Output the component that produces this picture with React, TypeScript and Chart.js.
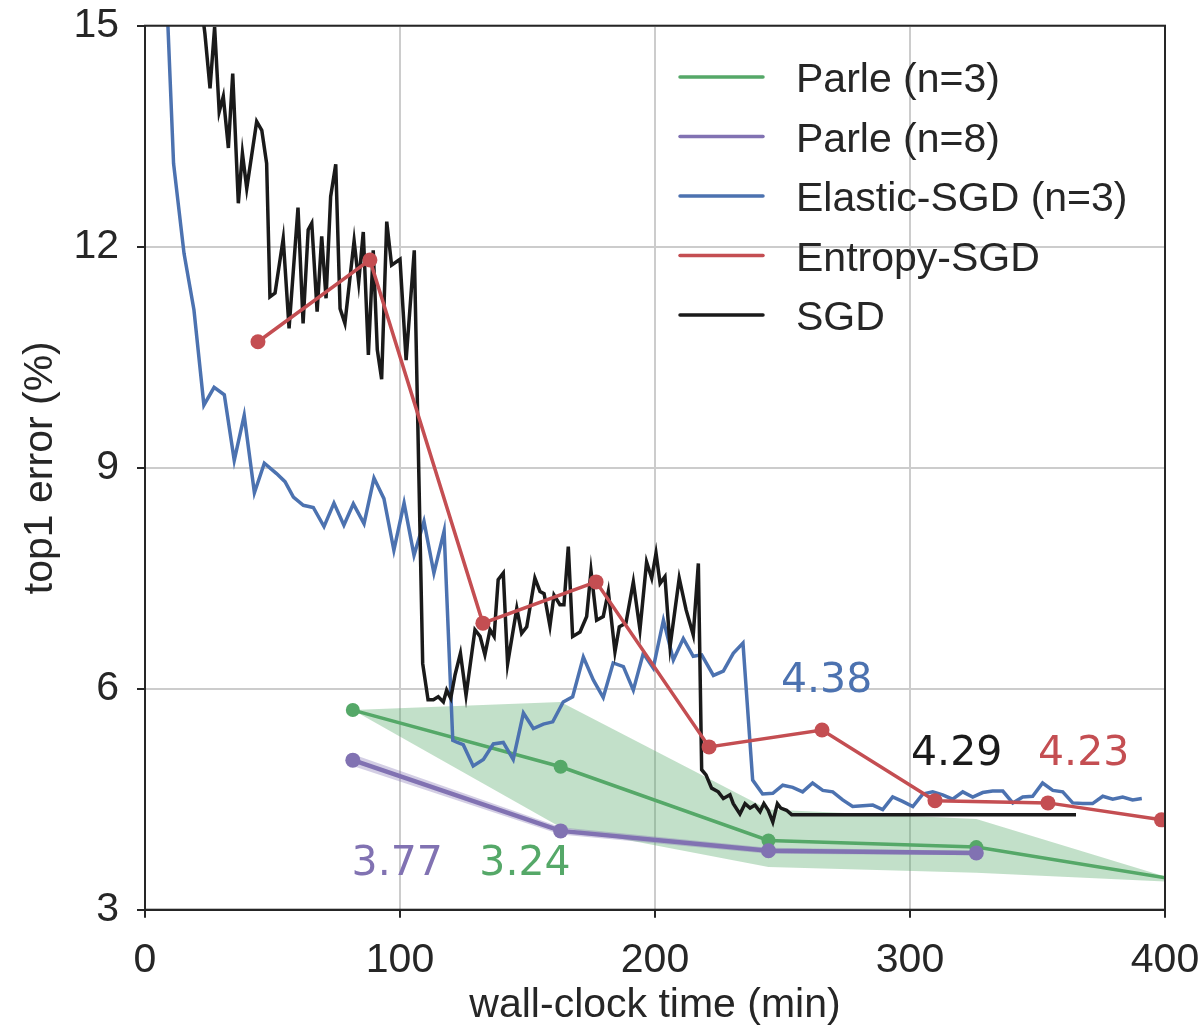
import React, { useEffect, useRef } from "react";
import { Chart, registerables } from "chart.js";
Chart.register(...registerables);

// ---------- data ----------
const xTickValues = [0, 100, 200, 300, 400];
const yTickValues = [3, 6, 9, 12, 15];

const seriesLabels = ["Parle (n=3)", "Parle (n=8)", "Elastic-SGD (n=3)", "Entropy-SGD", "SGD"];

const parle3: [number, number][] = [[81.5, 5.71], [163, 4.94], [244.5, 3.94], [326, 3.85], [407.5, 3.39]];
const parle3Upper: [number, number][] = [[81.5, 5.71], [163, 5.82], [244.5, 4.36], [326, 4.23], [407.5, 3.37]];
const parle3Lower: [number, number][] = [[81.5, 5.71], [163, 4.12], [244.5, 3.58], [326, 3.5], [407.5, 3.37]];

const parle8: [number, number][] = [[81.5, 5.03], [163, 4.07], [244.5, 3.8], [326, 3.77]];
const parle8Upper: [number, number][] = [[81.5, 5.11], [163, 4.12], [244.5, 3.84], [326, 3.8]];
const parle8Lower: [number, number][] = [[81.5, 4.95], [163, 4.02], [244.5, 3.76], [326, 3.74]];

const entropySgd: [number, number][] = [
  [44.3, 10.71], [88.2, 11.82], [132.5, 6.89], [176.9, 7.45], [221.2, 5.21],
  [265.5, 5.44], [309.8, 4.48], [354.1, 4.45], [398.6, 4.22],
];

const elasticSgd: [number, number][] = [
  [7.5, 16.26], [11.2, 13.13], [15.3, 11.91], [19.2, 11.14], [23.1, 9.85], [27.1, 10.09],
  [31.1, 9.99], [35.0, 9.1], [38.9, 9.71], [42.9, 8.66], [46.8, 9.06], [51.6, 8.92],
  [54.9, 8.81], [58.2, 8.6], [62.1, 8.49], [66.0, 8.46], [70.2, 8.2], [74.1, 8.52],
  [78.0, 8.22], [81.7, 8.51], [85.9, 8.24], [89.8, 8.86], [93.7, 8.58], [97.6, 7.88],
  [101.6, 8.52], [105.5, 7.81], [109.4, 8.27], [113.3, 7.57], [117.3, 8.14], [120.7, 5.3],
  [122.5, 5.27], [124.8, 5.24], [128.7, 4.95], [132.7, 5.04], [136.6, 5.25], [140.5, 5.27],
  [144.4, 5.04], [148.4, 5.67], [152.3, 5.46], [156.2, 5.52], [159.9, 5.55], [164.0, 5.82],
  [167.7, 5.89], [171.9, 6.43], [175.8, 6.12], [179.7, 5.88], [183.6, 6.35], [187.6, 6.3],
  [191.5, 5.98], [195.4, 6.48], [199.3, 6.28], [203.3, 6.93], [207.2, 6.39], [211.1, 6.68],
  [215.0, 6.44], [218.3, 6.46], [222.9, 6.18], [226.8, 6.24], [230.7, 6.48], [234.5, 6.62],
  [238.3, 4.76], [242.2, 4.57], [246.2, 4.58], [250.1, 4.69], [254.0, 4.66], [257.9, 4.6],
  [261.8, 4.72], [265.8, 4.62], [269.7, 4.6], [273.6, 4.49], [277.5, 4.4], [281.5, 4.41],
  [285.4, 4.42], [289.3, 4.36], [293.2, 4.53], [297.1, 4.47], [301.1, 4.4], [305.0, 4.57],
  [308.9, 4.6], [312.8, 4.56], [316.7, 4.5], [320.7, 4.6], [324.6, 4.53], [328.5, 4.59],
  [332.4, 4.61], [336.4, 4.61], [340.3, 4.45], [344.2, 4.53], [348.1, 4.54], [352.0, 4.72],
  [356.0, 4.62], [359.9, 4.6], [363.8, 4.45], [367.7, 4.44], [371.6, 4.44], [375.6, 4.54],
  [379.5, 4.5], [383.4, 4.53], [387.3, 4.49], [390.9, 4.51],
];

const sgd: [number, number][] = [
  [21.0, 15.6], [23.5, 14.89], [25.5, 14.15], [27.3, 14.98], [29.1, 13.83], [30.7, 14.04],
  [32.7, 13.34], [34.4, 14.35], [36.6, 12.59], [38.2, 13.27], [39.9, 12.79], [43.8, 13.7],
  [45.8, 13.58], [47.7, 13.13], [49.0, 11.32], [51.0, 11.37], [54.2, 12.11], [56.5, 10.89],
  [60.0, 12.53], [62.0, 10.96], [64.0, 12.23], [65.4, 12.32], [67.5, 11.12], [69.3, 12.14],
  [71.0, 11.3], [72.8, 12.68], [74.8, 13.12], [76.5, 11.16], [78.4, 10.96], [82.0, 12.08],
  [83.8, 11.52], [85.6, 12.2], [87.6, 10.53], [89.5, 11.95], [91.1, 10.6], [92.8, 10.2],
  [94.8, 12.34], [96.7, 11.75], [100.0, 11.83], [102.4, 10.46], [105.6, 11.95], [108.9, 6.34],
  [111.0, 5.85], [113.1, 5.85], [115.0, 5.89], [117.0, 5.82], [118.3, 5.98], [119.9, 5.87],
  [121.6, 6.19], [123.7, 6.48], [125.9, 5.91], [129.4, 6.8], [131.4, 6.71], [133.3, 6.46],
  [135.3, 6.8], [136.9, 6.71], [138.5, 7.48], [140.5, 7.57], [142.2, 6.34], [145.8, 7.09],
  [147.7, 6.75], [149.7, 6.84], [152.9, 7.5], [154.9, 7.32], [156.5, 7.29], [158.8, 6.85],
  [160.4, 7.27], [162.7, 7.14], [164.3, 7.14], [166.0, 7.93], [167.7, 6.71], [170.6, 6.77],
  [173.2, 6.98], [174.9, 7.6], [177.1, 6.93], [179.7, 6.98], [181.7, 7.32], [184.3, 6.5],
  [186.0, 6.84], [188.6, 6.89], [191.5, 7.45], [194.1, 6.8], [196.7, 7.72], [198.7, 7.5],
  [200.4, 7.84], [202.0, 7.43], [203.9, 7.52], [205.9, 6.57], [209.5, 7.5], [212.2, 7.07],
  [215.0, 6.73], [217.0, 7.7], [218.3, 4.9], [220.0, 4.83], [222.2, 4.65], [224.8, 4.6],
  [226.8, 4.51], [229.4, 4.56], [230.7, 4.44], [233.3, 4.3], [235.3, 4.44], [237.3, 4.38],
  [239.2, 4.42], [241.2, 4.33], [242.7, 4.44], [244.4, 4.35], [246.2, 4.19], [248.0, 4.44],
  [249.3, 4.38], [251.6, 4.35], [253.6, 4.29], [365.1, 4.29],
];

// final-value annotations: text, x, y (baseline, left aligned)
const annotTexts = ["3.77", "3.24", "4.38", "4.29", "4.23"];
const annotX = [81.0, 131.1, 249.4, 300.4, 350.2];
const annotY = [3.47, 3.47, 5.95, 4.96, 4.96];

// ---------- styles ----------
const GREEN = "#55a868";
const PURPLE = "#8172b2";
const BLUE = "#4c72b0";
const RED = "#c44e52";
const BLACK = "#1a1a1a";
const TEXT = "#262626";
const annotColors = [PURPLE, GREEN, BLUE, BLACK, RED];
const legendColors = [GREEN, PURPLE, BLUE, RED, BLACK];
const SANS = "'Liberation Sans', Arial, Helvetica, sans-serif";

const pts = (a: [number, number][]) => a.map(([x, y]) => ({ x, y }));

export default function App() {
  const ref = useRef<HTMLCanvasElement>(null);
  useEffect(() => {
    document.body.style.margin = "0";
    const lineDs = (label: string, data: [number, number][], color: string, order: number, radius: number, width = 3.5) => ({
      label,
      data: pts(data),
      borderColor: color,
      backgroundColor: color,
      pointBackgroundColor: color,
      pointBorderColor: color,
      pointBorderWidth: 0,
      pointRadius: radius,
      borderWidth: width,
      tension: 0,
      fill: false,
      order,
      clip: 0,
    });
    const bandDs = (data: [number, number][], color: string, order: number, fill: any) => ({
      label: "",
      data: pts(data),
      borderColor: "rgba(0,0,0,0)",
      backgroundColor: color,
      borderWidth: 0,
      pointRadius: 0,
      tension: 0,
      fill,
      order,
      clip: 0,
    });

    const framePlugin = {
      id: "frameAndText",
      afterDatasetsDraw(chart: any) {
        const { ctx, chartArea: a, scales } = chart;
        ctx.save();
        ctx.strokeStyle = TEXT;
        ctx.lineWidth = 2;
        ctx.strokeRect(a.left, a.top, a.right - a.left, a.bottom - a.top);
        // annotations
        ctx.font = "41px 'DejaVu Sans', sans-serif";
        ctx.textAlign = "left";
        ctx.textBaseline = "alphabetic";
        annotTexts.forEach((t, i) => {
          ctx.fillStyle = annotColors[i];
          ctx.fillText(t, scales.x.getPixelForValue(annotX[i]), scales.y.getPixelForValue(annotY[i]));
        });
        // legend
        ctx.font = `41px ${SANS}`;
        ctx.lineCap = "round";
        seriesLabels.forEach((lab, i) => {
          const y = 77 + i * 59.5;
          ctx.strokeStyle = legendColors[i];
          ctx.lineWidth = 3.5;
          ctx.beginPath();
          ctx.moveTo(680, y);
          ctx.lineTo(763, y);
          ctx.stroke();
          ctx.fillStyle = TEXT;
          ctx.fillText(lab, 796, y + 15);
        });
        ctx.restore();
      },
    };

    const tickFont = { family: SANS, size: 41 };
    const chart = new Chart(ref.current!, {
      type: "line",
      data: {
        datasets: [
          lineDs("Entropy-SGD", entropySgd, RED, 1, 7.5),
          lineDs("SGD", sgd, BLACK, 2, 0),
          lineDs("Elastic-SGD (n=3)", elasticSgd, BLUE, 3, 0),
          lineDs("Parle (n=8)", parle8, PURPLE, 4, 7.5, 4.5),
          lineDs("Parle (n=3)", parle3, GREEN, 5, 7),
          bandDs(parle8Upper, "rgba(129,114,178,0.35)", 6, false),
          bandDs(parle8Lower, "rgba(129,114,178,0.35)", 6, "-1"),
          bandDs(parle3Upper, "rgba(85,168,104,0.36)", 7, false),
          bandDs(parle3Lower, "rgba(85,168,104,0.36)", 7, "-1"),
        ] as any,
      },
      options: {
        responsive: false,
        animation: false,
        devicePixelRatio: 1,
        layout: { padding: { left: 0, top: 25.7, right: 38, bottom: 0 } },
        plugins: { legend: { display: false }, tooltip: { enabled: false } },
        scales: {
          x: {
            type: "linear",
            min: 0,
            max: 400,
            afterBuildTicks: (s: any) => { s.ticks = xTickValues.map((v) => ({ value: v })); },
            afterFit: (s: any) => { s.height = 1025 - 909.7; s.paddingLeft = 0; s.paddingRight = 0; },
            ticks: { font: tickFont, color: TEXT, padding: 18, maxRotation: 0 },
            grid: { color: "#cccccc", lineWidth: 2, tickColor: TEXT, tickLength: 8, tickWidth: 2 },
            border: { color: TEXT, width: 2 },
            title: { display: true, text: "wall-clock time (min)", font: tickFont, color: TEXT, padding: { top: 0, bottom: -5 } },
          },
          y: {
            type: "linear",
            min: 3,
            max: 15,
            afterBuildTicks: (s: any) => { s.ticks = yTickValues.map((v) => ({ value: v })); },
            afterFit: (s: any) => { s.width = 145; s.paddingTop = 0; s.paddingBottom = 0; },
            ticks: { font: tickFont, color: TEXT, padding: 18 },
            grid: { color: "#cccccc", lineWidth: 2, tickColor: TEXT, tickLength: 8, tickWidth: 2 },
            border: { color: TEXT, width: 2 },
            title: { display: true, text: "top1 error (%)", font: tickFont, color: TEXT, padding: { top: 16, bottom: 0 } },
          },
        },
      } as any,
      plugins: [framePlugin],
    });
    return () => chart.destroy();
  }, []);
  return (
    <div style={{ width: 1203, height: 1025 }}>
      <canvas ref={ref} width={1203} height={1025} style={{ display: "block" }} />
    </div>
  );
}
